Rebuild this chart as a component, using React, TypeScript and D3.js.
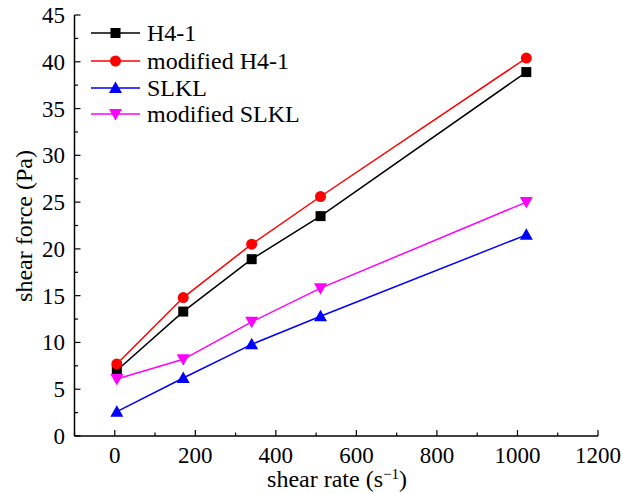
import React from "react";
import * as d3 from "d3";

const shearRate = [5.1, 170, 340, 511, 1022];
const h41 = [7.0, 13.3, 18.9, 23.5, 38.9];
const modH41 = [7.7, 14.8, 20.5, 25.6, 40.4];
const slkl = [2.6, 6.2, 9.8, 12.8, 21.5];
const modSlkl = [6.1, 8.2, 12.2, 15.8, 25.0];
const seriesNames = ["H4-1", "modified H4-1", "SLKL", "modified SLKL"];
const seriesColors = ["#000000", "#ff0000", "#0000ff", "#ff00ff"];
const seriesShapes = ["square", "circle", "triangle", "triangleDown"];
const xTicks = [0, 200, 400, 600, 800, 1000, 1200];
const yTicks = [0, 5, 10, 15, 20, 25, 30, 35, 40, 45];

const W = 622;
const H = 494;

function Marker({ shape, x, y, color }: { shape: string; x: number; y: number; color: string }) {
  if (shape === "square") return <rect x={x - 5} y={y - 5} width={10} height={10} fill={color} />;
  if (shape === "circle") return <circle cx={x} cy={y} r={5.5} fill={color} />;
  if (shape === "triangle")
    return <path d={`M${x},${y - 6.5}L${x + 6.5},${y + 5}L${x - 6.5},${y + 5}Z`} fill={color} />;
  return <path d={`M${x},${y + 6.5}L${x + 6.5},${y - 5}L${x - 6.5},${y - 5}Z`} fill={color} />;
}

export default function App() {
  const x = d3.scaleLinear().domain([-100, 1200]).range([74.5, 598]);
  const y = d3.scaleLinear().domain([0, 45]).range([436, 15]);
  const data = [h41, modH41, slkl, modSlkl];
  const line = d3
    .line<number>()
    .x((_, i) => x(shearRate[i]))
    .y((d) => y(d));
  const xMinor = d3.range(-100, 1201, 100).filter((v) => v % 200 !== 0);
  const yMinor = d3.range(2.5, 45, 5);
  const font = "'Liberation Serif', 'Times New Roman', serif";
  return (
    <svg
      width={W}
      height={H}
      style={{ position: "absolute", left: 0, top: 0, background: "#fff" }}
      fontFamily={font}
    >
      {/* axes */}
      <line x1={x(-100)} x2={x(-100)} y1={y(45)} y2={y(0)} stroke="#000" strokeWidth={1.5} />
      <line x1={x(-100)} x2={x(1200)} y1={y(0)} y2={y(0)} stroke="#000" strokeWidth={1.5} />
      {yTicks.map((t) => (
        <g key={"yt" + t}>
          <line x1={x(-100)} x2={x(-100) + 6} y1={y(t)} y2={y(t)} stroke="#000" strokeWidth={1.2} />
          <text x={65} y={y(t)} dy="0.35em" textAnchor="end" fontSize={23}>
            {t}
          </text>
        </g>
      ))}
      {yMinor.map((t) => (
        <line key={"ym" + t} x1={x(-100)} x2={x(-100) + 3.5} y1={y(t)} y2={y(t)} stroke="#000" strokeWidth={1.2} />
      ))}
      {xTicks.map((t) => (
        <g key={"xt" + t}>
          <line x1={x(t)} x2={x(t)} y1={y(0)} y2={y(0) - 6} stroke="#000" strokeWidth={1.2} />
          <text x={x(t)} y={463} textAnchor="middle" fontSize={23}>
            {t}
          </text>
        </g>
      ))}
      {xMinor.map((t) => (
        <line key={"xm" + t} x1={x(t)} x2={x(t)} y1={y(0)} y2={y(0) - 3.5} stroke="#000" strokeWidth={1.2} />
      ))}
      <text x={337} y={487} textAnchor="middle" fontSize={24}>
        shear rate (s
        <tspan dy={-8} fontSize={15}>
          −1
        </tspan>
        <tspan dy={8}>)</tspan>
      </text>
      <text transform="translate(32,226) rotate(-90)" textAnchor="middle" fontSize={24}>
        shear force (Pa)
      </text>
      {/* series */}
      {data.map((vals, si) => (
        <g key={"s" + si}>
          <path d={line(vals) || ""} fill="none" stroke={seriesColors[si]} strokeWidth={1.5} />
          {vals.map((v, i) => (
            <Marker key={i} shape={seriesShapes[si]} x={x(shearRate[i])} y={y(v)} color={seriesColors[si]} />
          ))}
        </g>
      ))}
      {/* legend */}
      {seriesNames.map((name, i) => {
        const ly = [33, 61, 88, 114][i];
        return (
          <g key={"l" + i}>
            <line x1={91} x2={140} y1={ly} y2={ly} stroke={seriesColors[i]} strokeWidth={1.5} />
            <Marker shape={seriesShapes[i]} x={115.5} y={ly} color={seriesColors[i]} />
            <text x={147} y={ly} dy="0.35em" fontSize={24}>
              {name}
            </text>
          </g>
        );
      })}
    </svg>
  );
}
